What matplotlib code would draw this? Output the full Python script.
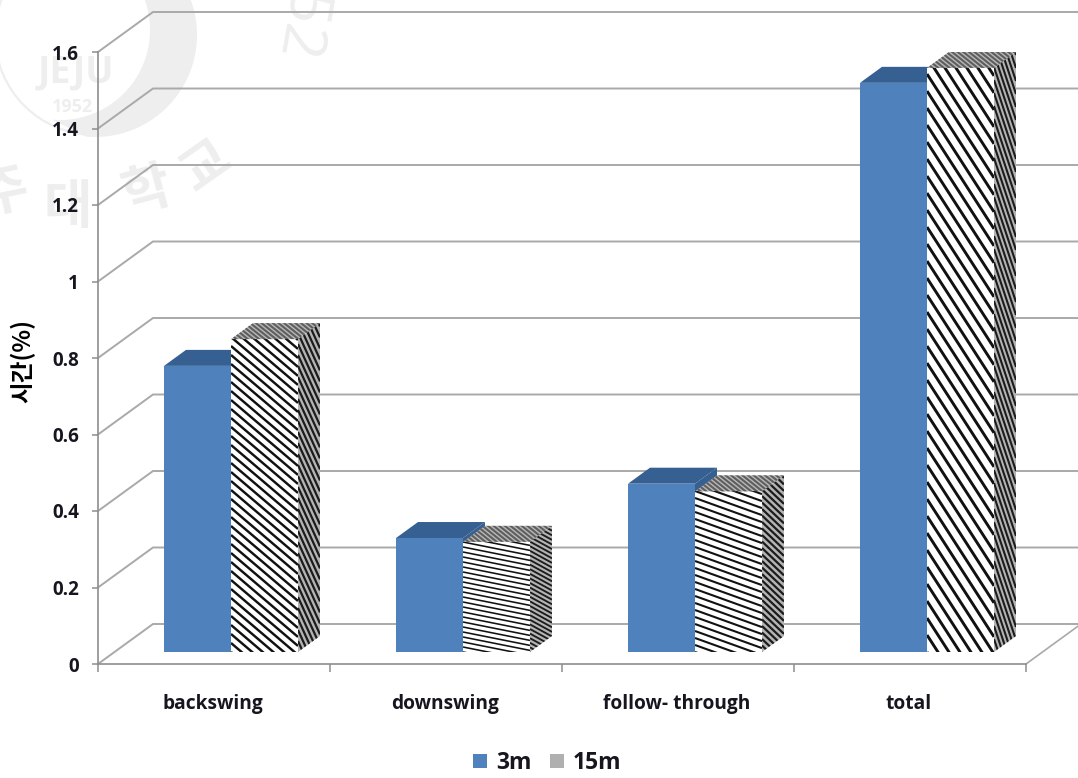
#!/usr/bin/python
import numpy as np
import matplotlib
matplotlib.use('Agg')
import matplotlib.pyplot as plt
from matplotlib.patches import Polygon, Arc, Patch
from matplotlib.collections import LineCollection

categories = ['backswing', 'downswing', 'follow- through', 'total']
series_names = ['3m', '15m']
values_3m = [0.748, 0.298, 0.44, 1.488]
values_15m = [0.818, 0.288, 0.42, 1.527]
y_ticks = [0, 0.2, 0.4, 0.6, 0.8, 1, 1.2, 1.4, 1.6]
y_tick_labels = ['0', '0.2', '0.4', '0.6', '0.8', '1', '1.2', '1.4', '1.6']

# per bar stripe style in pixels: slope, vertical step, line width
front_stripes = [(0.85, 9.0, 1.75), (0.2, 5.0, 1.15), (0.36, 7.0, 1.5), (1.55, 17.0, 2.1)]
side_stripes = [(2.2, 11.0, 1.6), (0.55, 4.6, 1.35), (0.95, 6.5, 1.6), (3.0, 13.0, 1.5)]

GRID = '#a9a9a9'
AXIS = '#8e8e8e'
BLUE = '#4f81bd'
BLUE_TOP = '#376092'
MARK = '#eeeeee'
INK = '#16161f'
FONT = 'Open Sans'
KR_FONT = ['Noto Sans CJK KR', 'DejaVu Sans']

fig = plt.figure(figsize=(10.78, 7.78), dpi=100, facecolor='white')

# faint seal behind the plot, laid out in pixels
bg = fig.add_axes([0, 0, 1, 1], zorder=0)
bg.set_xlim(0, 1078)
bg.set_ylim(778, 0)
bg.axis('off')
t = np.radians(np.linspace(-20, 95, 60))
outer = np.c_[95 + 102 * np.cos(t), 35 + 102 * np.sin(t)]
inner = np.c_[60 + 90 * np.cos(t[::-1]), 30 + 90 * np.sin(t[::-1])]
bg.add_patch(Polygon(np.r_[outer, inner], closed=True, fc=MARK, ec='none'))
bg.add_patch(Arc((95, 35), 200, 200, theta1=90, theta2=270, ec=MARK, lw=1.6))
bg.text(76, 72, 'JEJU', fontsize=27, fontweight='bold', family=FONT, color=MARK, ha='center', va='center')
bg.text(73, 107, '1952', fontsize=13, fontweight='bold', family=FONT, color=MARK, ha='center', va='center')
bg.text(302, -6, '1952', fontsize=44, family=FONT, color=MARK, ha='center', va='center', rotation=-100)
for ch, cx, cy, rot in [('주', 4, 193, 12), ('대', 68, 207, 0), ('학', 147, 191, 15), ('교', 206, 165, 35)]:
    bg.text(cx, cy, ch, fontsize=38, fontweight='bold', family=KR_FONT, color=MARK,
            ha='center', va='center', rotation=rot)

ax = fig.add_axes([98 / 1078, (778 - 664) / 778, 928 / 1078, 612 / 778], zorder=1)
ax.patch.set_alpha(0)
ax.set_xlim(0, 4)
ax.set_ylim(0, 1.6)

# pixels per data unit, for the oblique depth of the box
PX_X = 232.0
PX_Y = 382.5
wall_dx, wall_dy = 55 / PX_X, 40 / PX_Y
base_dx, base_dy = 17 / PX_X, 12 / PX_Y
cap_dx, cap_dy = 22 / PX_X, 16 / PX_Y
bar_w = 67 / PX_X
right_edge = (1078 - 98) / PX_X

# walls and floor
for v in y_ticks:
    ax.plot([0, wall_dx, right_edge], [v, v + wall_dy, v + wall_dy], color=GRID, lw=1.4,
            clip_on=False, zorder=1, solid_joinstyle='miter')
ax.plot([4, right_edge], [0, wall_dy * (right_edge - 4) / wall_dx], color=GRID, lw=1.2, clip_on=False, zorder=1)


def stripes(pts, slope, step, lw, color='#111111', z=4):
    """fill a polygon with parallel lines, slope and step given in pixels"""
    pts = np.array(pts)
    x0, x1 = pts[:, 0].min(), pts[:, 0].max()
    y0, y1 = pts[:, 1].min(), pts[:, 1].max()
    d = -slope * PX_X / PX_Y
    span = abs(d) * (x1 - x0)
    segs = [[(x0, c), (x1, c + d * (x1 - x0))] for c in np.arange(y0, y1 + span, step / PX_Y)]
    lc = LineCollection(segs, colors=color, linewidths=lw, zorder=z)
    ax.add_collection(lc)
    clip = Polygon(pts, closed=True, transform=ax.transData)
    lc.set_clip_path(clip)


x_group = np.arange(4) + 0.5 + base_dx
ax.bar(x_group - bar_w, values_3m, bar_w, bottom=base_dy, align='edge', color=BLUE, zorder=3, clip_on=False)
ax.bar(x_group, values_15m, bar_w, bottom=base_dy, align='edge', color='white', zorder=3, clip_on=False)

for i, x in enumerate(x_group):
    # blue cap
    top = base_dy + values_3m[i]
    ax.add_patch(Polygon([(x - bar_w, top), (x, top), (x + cap_dx, top + cap_dy), (x - bar_w + cap_dx, top + cap_dy)],
                         closed=True, fc=BLUE_TOP, ec='none', zorder=2.5, clip_on=False))
    ax.add_patch(Polygon([(x, base_dy + values_3m[i]), (x + cap_dx, top + cap_dy), (x + cap_dx, base_dy + cap_dy), (x, base_dy)],
                         closed=True, fc=BLUE_TOP, ec='none', zorder=2.4))

    # striped column
    top = base_dy + values_15m[i]
    x1 = x + bar_w
    front = [(x, base_dy), (x1, base_dy), (x1, top), (x, top)]
    side = [(x1, base_dy), (x1 + cap_dx, base_dy + cap_dy), (x1 + cap_dx, top + cap_dy), (x1, top)]
    cap = [(x, top), (x1, top), (x1 + cap_dx, top + cap_dy), (x + cap_dx, top + cap_dy)]
    ax.add_patch(Polygon(side, closed=True, fc='#b4b4b4', ec='none', zorder=3))
    ax.add_patch(Polygon(cap, closed=True, fc='#b8b8b8', ec='none', zorder=3))
    slope, step, lw = front_stripes[i]
    stripes(front, slope, step, lw)
    slope, step, lw = side_stripes[i]
    stripes(side, slope, step, lw, color='#1c1c1c')
    stripes(cap, 0.8, 4.5, 1.5, color='#5e5e5e')

for name in ['top', 'right']:
    ax.spines[name].set_visible(False)
for name in ['left', 'bottom']:
    ax.spines[name].set_color(AXIS)
    ax.spines[name].set_linewidth(1.2)

ax.set_yticks(y_ticks)
ax.set_yticklabels(y_tick_labels, fontsize=13.5, fontweight='bold', family=FONT, color=INK)
ax.set_xticks(np.arange(5))
ax.set_xticklabels([])
ax.tick_params(axis='x', color=AXIS, width=1.1, length=5.8)
ax.tick_params(axis='y', color=AXIS, width=1.1, length=4.3, pad=9.4)

for c, name in zip(np.arange(4) + 0.5, categories):
    ax.annotate(name, (c, 0), xytext=(-1, -40), textcoords='offset pixels', ha='center', va='center',
                fontsize=13.8, fontweight='bold', family=FONT, color=INK, annotation_clip=False)

fig.text(23 / 1078, 1 - 361 / 778, '시간(%)', rotation=90, ha='center', va='center', fontsize=17,
         fontweight='bold', family=KR_FONT, color='black')

handles = [Patch(fc=BLUE, ec='none'), Patch(fc='#b0b0b0', ec='none')]
fig.legend(handles, series_names, loc='center', bbox_to_anchor=(547 / 1078, 1 - 763 / 778), ncol=2, frameon=False,
           handlelength=0.62, handleheight=0.62, handletextpad=0.4, columnspacing=0.8,
           prop={'family': FONT, 'weight': 'bold', 'size': 16.5}, labelcolor=INK)

fig.savefig('out.png', dpi=100)
